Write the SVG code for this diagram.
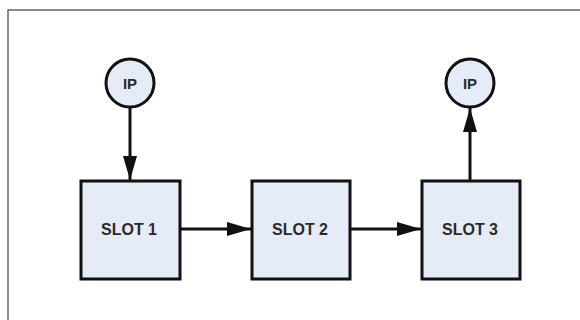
<svg xmlns="http://www.w3.org/2000/svg" width="580" height="320" viewBox="0 0 580 320">
<style>
.slot{fill:#e6ecf7;stroke:#111;stroke-width:3}
.ip{fill:#e6ecf7;stroke:#111;stroke-width:3}
.lbl{font-family:"Liberation Sans",Arial,sans-serif;font-weight:bold;fill:#2a2a2a;text-anchor:middle;dominant-baseline:central}
.conn{stroke:#111;stroke-width:3;fill:none}
</style>
<defs>
<marker id="ah" viewBox="0 0 24 14" refX="24" refY="7" markerWidth="24" markerHeight="14" markerUnits="userSpaceOnUse" orient="auto">
<path d="M0,0 L24,7 L0,14 Z" fill="#111"/>
</marker>
</defs>
<rect width="580" height="320" fill="#fff"/>
<rect x="8" y="10" width="620" height="360" fill="none" stroke="#666" stroke-width="1.5"/>
<g id="connectors">
<line class="conn" x1="130" y1="107" x2="130" y2="180" marker-end="url(#ah)"/>
<line class="conn" x1="181" y1="229" x2="251" y2="229" marker-end="url(#ah)"/>
<line class="conn" x1="351" y1="229" x2="421" y2="229" marker-end="url(#ah)"/>
<line class="conn" x1="470" y1="181" x2="470" y2="108" marker-end="url(#ah)"/>
</g>
<g id="ip1">
<circle class="ip" cx="130" cy="83" r="24"/>
<text class="lbl" x="130" y="83" font-size="15">IP</text>
</g>
<g id="ip2">
<circle class="ip" cx="470" cy="83" r="24"/>
<text class="lbl" x="470" y="83" font-size="15">IP</text>
</g>
<g id="slot1">
<rect class="slot" x="81" y="181" width="99" height="98"/>
<text class="lbl" x="129" y="229.5" font-size="16">SLOT 1</text>
</g>
<g id="slot2">
<rect class="slot" x="252" y="181" width="98" height="98"/>
<text class="lbl" x="300" y="229.5" font-size="16">SLOT 2</text>
</g>
<g id="slot3">
<rect class="slot" x="422" y="181" width="98" height="98"/>
<text class="lbl" x="470" y="229.5" font-size="16">SLOT 3</text>
</g>
</svg>
